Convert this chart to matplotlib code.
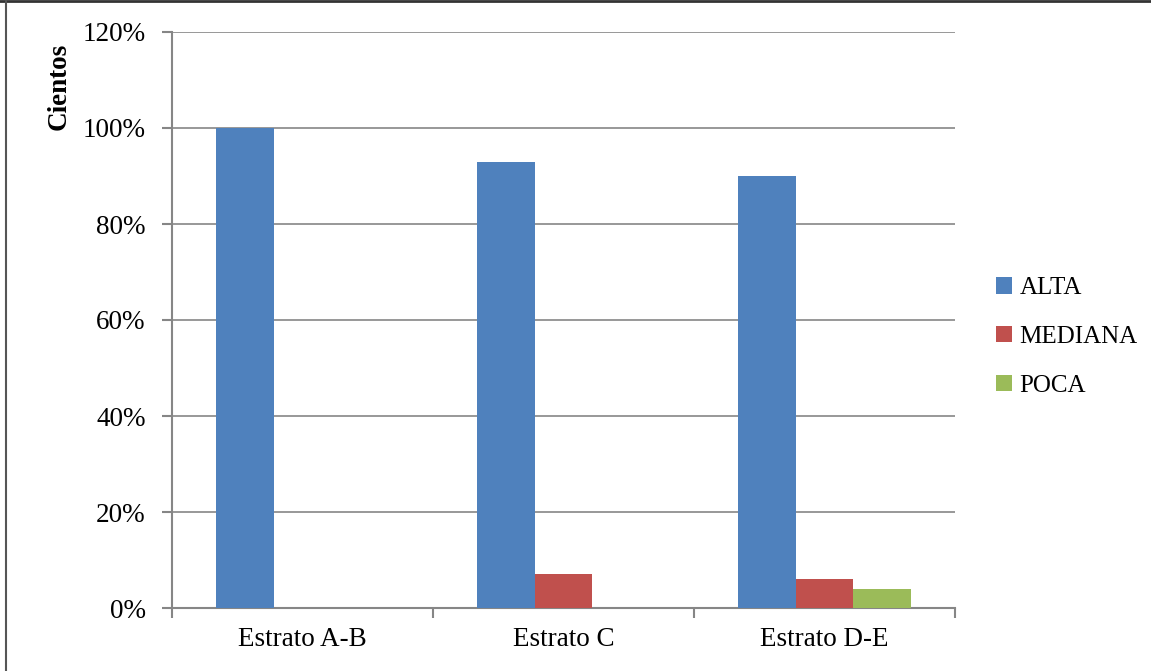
import matplotlib
matplotlib.use("Agg")
import matplotlib.pyplot as plt
from matplotlib.ticker import FuncFormatter, MultipleLocator
from matplotlib.lines import Line2D
import numpy as np

categories = ["Estrato A-B", "Estrato C", "Estrato D-E"]
series_names = ["ALTA", "MEDIANA", "POCA"]
alta = [1.00, 0.93, 0.90]
mediana = [0.0, 0.07, 0.06]
poca = [0.0, 0.0, 0.04]
colors = ["#4F81BD", "#C0504D", "#9BBB59"]

plt.rcParams['font.family'] = ['Liberation Serif', 'DejaVu Serif']
FS = 19.5

fig = plt.figure(figsize=(11.51, 6.71), dpi=100)
ax = fig.add_axes([172/1151, 1-608/671, (955-172)/1151, (608-32)/671])

x = np.arange(len(categories))
w = 0.222
for j, (vals, name) in enumerate(zip([alta, mediana, poca], series_names)):
    ax.bar(x + (j-1)*w, vals, w, color=colors[j], label=name, zorder=3)

ax.set_xlim(-0.5, 2.5)
ax.set_ylim(0, 1.2)
ax.yaxis.set_major_locator(MultipleLocator(0.2))
ax.yaxis.set_major_formatter(FuncFormatter(lambda v, p: f"{round(v*100)}%"))
ax.set_xticks(x)
ax.set_xticklabels(categories)
ax.set_xticks([0.5, 1.5, 2.5, -0.5], minor=True)
ax.tick_params(axis='x', which='major', length=0, pad=14, labelsize=FS)
ax.tick_params(axis='x', which='minor', length=7, color='#868686', width=1.5)
ax.tick_params(axis='y', length=7, color='#868686', width=1.5, labelsize=FS, pad=12)
ax.grid(axis='y', color='#868686', linewidth=1.2, zorder=0)
for s in ['top', 'right']:
    ax.spines[s].set_visible(False)
for s in ['left', 'bottom']:
    ax.spines[s].set_color('#868686')
    ax.spines[s].set_linewidth(1.5)

fig.text(59/1151, 1-86/671, "Cientos", rotation=90, ha='center', va='center',
         fontsize=FS, fontweight='bold')

leg = fig.legend(loc='center left', bbox_to_anchor=(996/1151, 1-337/671), frameon=False,
                 fontsize=18, handlelength=0.62, handleheight=0.62, handletextpad=0.32,
                 labelspacing=1.07, borderaxespad=0, borderpad=0)

# outer frame
fig.add_artist(Line2D([0, 1], [1-1/671, 1-1/671], color='#333333', linewidth=2, transform=fig.transFigure))
fig.add_artist(Line2D([6/1151, 6/1151], [0, 1], color='#555555', linewidth=1.5, transform=fig.transFigure))

fig.savefig("out.png", dpi=100)
